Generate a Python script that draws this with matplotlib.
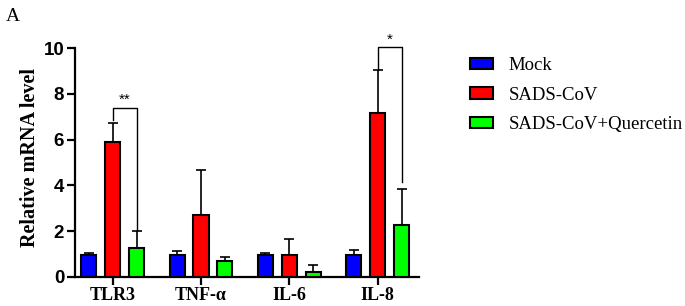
import numpy as np
import matplotlib
matplotlib.use("Agg")
import matplotlib.pyplot as plt
from matplotlib.patches import Patch

# data
genes = ["TLR3", "TNF-α", "IL-6", "IL-8"]
groups = ["Mock", "SADS-CoV", "SADS-CoV+Quercetin"]
colors = ["#0000ff", "#ff0000", "#00ff00"]
mock = [0.97, 0.97, 0.97, 0.97]
sads = [5.88, 2.70, 0.94, 7.15]
quer = [1.27, 0.68, 0.23, 2.26]
mock_err = [0.09, 0.15, 0.08, 0.19]
sads_err = [0.85, 1.97, 0.72, 1.90]
quer_err = [0.73, 0.21, 0.31, 1.60]

means = [mock, sads, quer]
errs = [mock_err, sads_err, quer_err]

fig = plt.figure(figsize=(6.85, 3.06), dpi=100)
ax = fig.add_axes([0.109, 0.095, 0.503, 0.748])

x = np.arange(len(genes))
width = 0.17
offsets = [-0.27, 0.0, 0.27]
for i in range(3):
    ax.bar(x + offsets[i], means[i], width, color=colors[i],
           edgecolor="black", linewidth=1.5, zorder=3)
    ax.errorbar(x + offsets[i], means[i], yerr=[np.zeros(4), errs[i]],
                fmt="none", ecolor="black", elinewidth=1.2, capsize=3.5,
                capthick=1.2, zorder=2)

# significance brackets
def bracket(x1, x2, y1, y2, top, label):
    ax.plot([x1, x1, x2, x2], [y1, top, top, y2], color="black", lw=1.0,
            clip_on=False, zorder=4)
    ax.text((x1 + x2) / 2, top + 0.02, label, ha="center", va="bottom",
            fontsize=11, family="Liberation Sans", clip_on=False)

bracket(x[0] + offsets[1], x[0] + offsets[2], 6.87, 2.07, 7.4, "**")
bracket(x[3] + offsets[1], x[3] + offsets[2], 9.05, 4.13, 10.05, "*")

ax.set_xlim(-0.43, 3.47)
ax.set_ylim(0, 10)
ax.set_yticks([0, 2, 4, 6, 8, 10])
ax.set_xticks(x)
ax.set_xticklabels(genes, fontsize=13, fontweight="bold", family="Liberation Serif")
for lab in ax.get_yticklabels():
    lab.set_fontsize(13.5)
    lab.set_fontweight("bold")
    lab.set_family("Liberation Sans")
ax.set_ylabel("Relative mRNA level", fontsize=14.5, fontweight="bold",
              family="Liberation Serif", labelpad=3)
ax.yaxis.set_label_coords(-0.1, 0.52)

for s in ["top", "right"]:
    ax.spines[s].set_visible(False)
for s in ["left", "bottom"]:
    ax.spines[s].set_linewidth(1.6)
ax.tick_params(axis="both", width=1.6, length=5.5, direction="out", pad=2)

handles = [Patch(facecolor=c, edgecolor="black", linewidth=1.5) for c in colors]
fig.legend(handles, groups, loc="upper left", bbox_to_anchor=(0.686, 0.814),
           frameon=False, prop={"family": "Liberation Serif", "size": 13.5},
           handlelength=1.25, handleheight=0.55, labelspacing=0.68,
           handletextpad=0.8, borderpad=0, borderaxespad=0)

fig.text(0.008, 0.975, "A", fontsize=14, family="Liberation Serif",
         ha="left", va="top")

fig.savefig("out.png", dpi=100)
